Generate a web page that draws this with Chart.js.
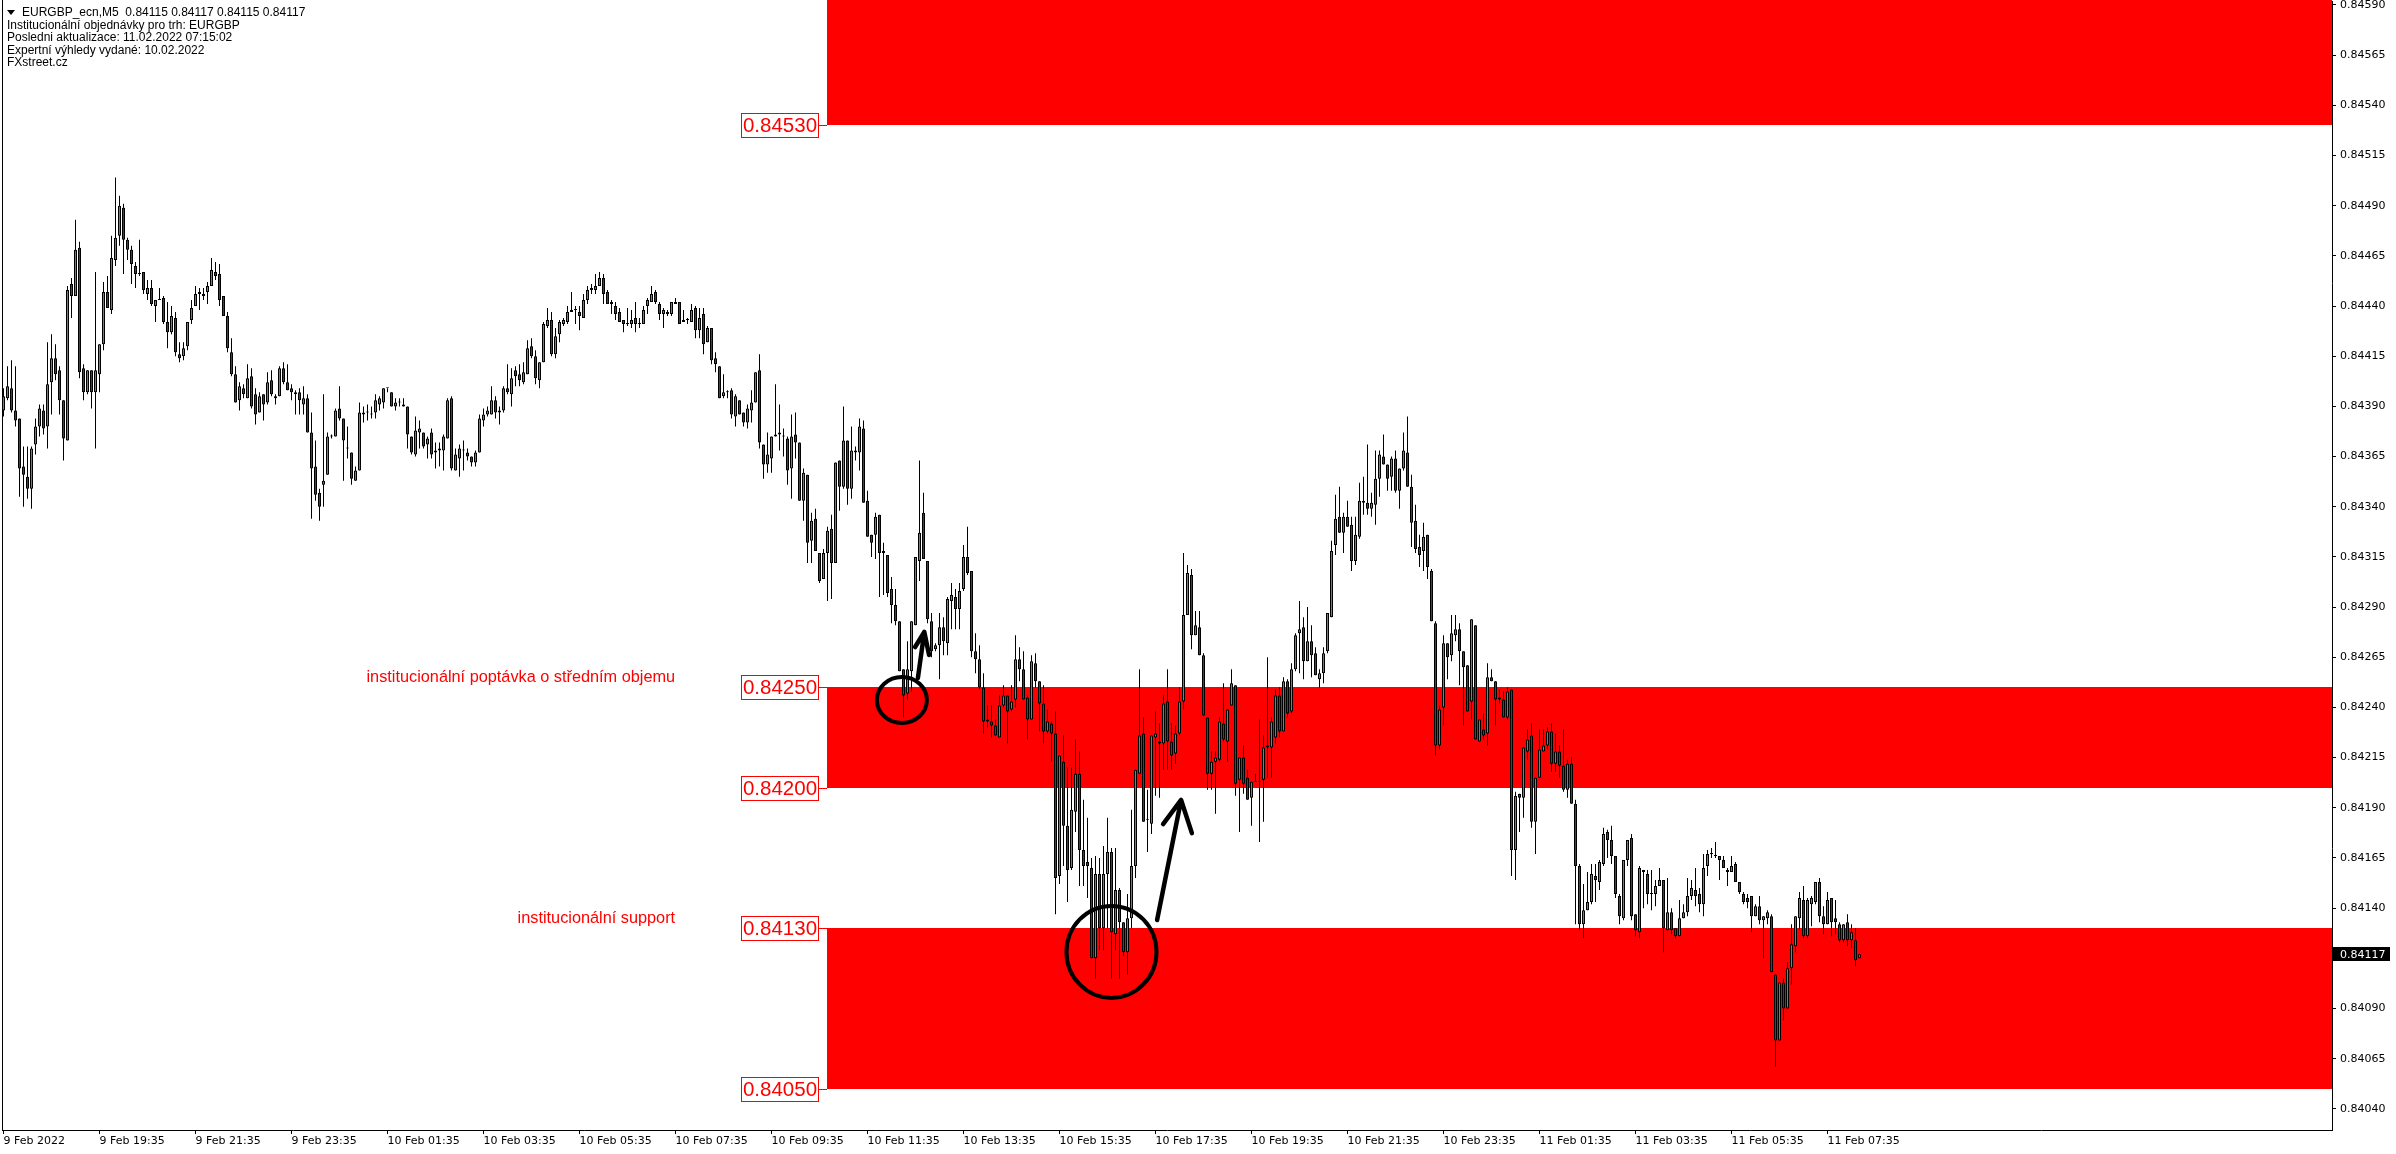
<!DOCTYPE html>
<html>
<head>
<meta charset="utf-8">
<script src="https://cdn.jsdelivr.net/npm/chart.js@4.4.1/dist/chart.umd.min.js"></script>
<style>
  html, body { margin: 0; padding: 0; background: #fff; overflow: hidden; }
</style>
</head>
<body>
<canvas id="c" width="2396" height="1154"></canvas>
<script>
// EURGBP M5, one entry per 5-minute bar, first bar 9 Feb 17:35
const opens = [
0.84388,0.84394,0.84399,0.84388,0.84384,0.84360,0.84355,0.84349,0.84371,0.84380,
0.84388,0.84380,0.84402,0.84414,0.84408,0.84393,0.84373,0.84451,0.84445,0.84469,
0.84409,0.84397,0.84408,0.84397,0.84406,0.84421,0.84447,0.84438,0.84463,0.84475,
0.84489,0.84473,0.84468,0.84460,0.84456,0.84457,0.84446,0.84449,0.84440,0.84443,
0.84444,0.84432,0.84427,0.84434,0.84416,0.84415,0.84420,0.84433,0.84440,0.84447,
0.84445,0.84447,0.84450,0.84457,0.84456,0.84445,0.84435,0.84417,0.84406,0.84393,
0.84399,0.84394,0.84405,0.84396,0.84387,0.84396,0.84392,0.84403,0.84395,0.84395,
0.84409,0.84402,0.84399,0.84397,0.84397,0.84391,0.84394,0.84377,0.84360,0.84347,
0.84351,0.84356,0.84375,0.84375,0.84389,0.84384,0.84369,0.84367,0.84353,0.84358,
0.84387,0.84387,0.84386,0.84387,0.84391,0.84392,0.84399,0.84397,0.84390,0.84392,
0.84391,0.84390,0.84375,0.84366,0.84377,0.84377,0.84371,0.84377,0.84367,0.84368,
0.84368,0.84374,0.84394,0.84358,0.84364,0.84368,0.84367,0.84365,0.84362,0.84367,
0.84383,0.84386,0.84386,0.84393,0.84387,0.84388,0.84399,0.84396,0.84408,0.84406,
0.84402,0.84406,0.84420,0.84415,0.84403,0.84412,0.84430,0.84433,0.84416,0.84426,
0.84431,0.84432,0.84437,0.84438,0.84437,0.84434,0.84443,0.84448,0.84448,0.84450,
0.84454,0.84447,0.84442,0.84440,0.84437,0.84433,0.84431,0.84431,0.84434,0.84431,
0.84431,0.84440,0.84442,0.84447,0.84441,0.84436,0.84437,0.84436,0.84442,0.84442,
0.84432,0.84433,0.84432,0.84439,0.84428,0.84436,0.84422,0.84429,0.84414,0.84410,
0.84395,0.84397,0.84398,0.84385,0.84393,0.84387,0.84382,0.84388,0.84392,0.84408,
0.84371,0.84361,0.84364,0.84375,0.84377,0.84375,0.84374,0.84359,0.84376,0.84372,
0.84343,0.84356,0.84323,0.84334,0.84317,0.84304,0.84317,0.84329,0.84312,0.84363,
0.84350,0.84373,0.84349,0.84368,0.84367,0.84379,0.84343,0.84326,0.84326,0.84336,
0.84318,0.84316,0.84299,0.84291,0.84283,0.84259,0.84247,0.84258,0.84281,0.84313,
0.84337,0.84313,0.84283,0.84269,0.84271,0.84280,0.84272,0.84293,0.84295,0.84289,
0.84299,0.84315,0.84308,0.84268,0.84264,0.84250,0.84234,0.84233,0.84231,0.84225,
0.84241,0.84246,0.84239,0.84244,0.84264,0.84259,0.84245,0.84234,0.84262,0.84253,
0.84242,0.84228,0.84232,0.84227,0.84156,0.84213,0.84181,0.84160,0.84188,0.84207,
0.84169,0.84163,0.84160,0.84115,0.84157,0.84130,0.84157,0.84168,0.84127,0.84149,
0.84133,0.84118,0.84135,0.84161,0.84207,0.84227,0.84184,0.84182,0.84225,0.84223,
0.84222,0.84243,0.84223,0.84217,0.84227,0.84243,0.84286,0.84306,0.84276,0.84280,
0.84266,0.84235,0.84207,0.84213,0.84214,0.84232,0.84223,0.84241,0.84251,0.84204,
0.84215,0.84205,0.84195,0.84203,0.84203,0.84204,0.84220,0.84220,0.84225,0.84246,
0.84228,0.84253,0.84238,0.84259,0.84277,0.84280,0.84263,0.84273,0.84267,0.84254,
0.84257,0.84268,0.84285,0.84321,0.84335,0.84327,0.84335,0.84331,0.84313,0.84325,
0.84342,0.84342,0.84339,0.84341,0.84354,0.84365,0.84361,0.84355,0.84364,0.84348,
0.84359,0.84367,0.84350,0.84333,0.84320,0.84318,0.84326,0.84308,0.84282,0.84221,
0.84240,0.84272,0.84266,0.84276,0.84279,0.84268,0.84261,0.84243,0.84281,0.84223,
0.84229,0.84227,0.84255,0.84253,0.84245,0.84244,0.84235,0.84249,0.84169,0.84197,
0.84195,0.84218,0.84226,0.84183,0.84205,0.84218,0.84221,0.84228,0.84212,0.84218,
0.84211,0.84199,0.84212,0.84192,0.84161,0.84132,0.84139,0.84143,0.84156,0.84153,
0.84162,0.84178,0.84174,0.84166,0.84146,0.84135,0.84164,0.84175,0.84137,0.84128,
0.84159,0.84157,0.84147,0.84147,0.84151,0.84154,0.84129,0.84138,0.84130,0.84126,
0.84135,0.84138,0.84146,0.84149,0.84147,0.84142,0.84161,0.84167,0.84166,0.84166,
0.84164,0.84159,0.84158,0.84162,0.84153,0.84147,0.84145,0.84146,0.84136,0.84141,
0.84134,0.84135,0.84136,0.84107,0.84074,0.84103,0.84090,0.84110,0.84121,0.84135,
0.84144,0.84126,0.84142,0.84143,0.84153,0.84136,0.84132,0.84145,0.84135,0.84132,
0.84124,0.84133,0.84124,0.84124,0.84115
];
const highs = [
0.84399,0.84410,0.84413,0.84410,0.84384,0.84370,0.84370,0.84370,0.84384,0.84391,
0.84391,0.84422,0.84426,0.84421,0.84410,0.84393,0.84450,0.84454,0.84483,0.84472,
0.84411,0.84408,0.84408,0.84457,0.84421,0.84452,0.84455,0.84475,0.84504,0.84495,
0.84491,0.84474,0.84470,0.84462,0.84473,0.84457,0.84453,0.84453,0.84443,0.84449,
0.84445,0.84442,0.84440,0.84437,0.84422,0.84422,0.84432,0.84443,0.84450,0.84449,
0.84449,0.84452,0.84464,0.84462,0.84461,0.84445,0.84437,0.84424,0.84410,0.84402,
0.84401,0.84411,0.84409,0.84399,0.84397,0.84396,0.84407,0.84408,0.84396,0.84410,
0.84412,0.84411,0.84401,0.84398,0.84399,0.84400,0.84396,0.84387,0.84373,0.84349,
0.84396,0.84377,0.84376,0.84389,0.84400,0.84384,0.84380,0.84367,0.84360,0.84392,
0.84390,0.84391,0.84390,0.84396,0.84395,0.84399,0.84399,0.84397,0.84394,0.84394,
0.84394,0.84390,0.84375,0.84385,0.84383,0.84377,0.84375,0.84379,0.84372,0.84372,
0.84376,0.84394,0.84395,0.84369,0.84371,0.84373,0.84369,0.84365,0.84368,0.84386,
0.84389,0.84390,0.84400,0.84395,0.84390,0.84400,0.84411,0.84409,0.84410,0.84411,
0.84412,0.84423,0.84424,0.84418,0.84412,0.84432,0.84439,0.84437,0.84429,0.84433,
0.84434,0.84440,0.84447,0.84440,0.84440,0.84446,0.84450,0.84451,0.84456,0.84457,
0.84456,0.84448,0.84443,0.84442,0.84439,0.84433,0.84439,0.84438,0.84442,0.84434,
0.84440,0.84444,0.84450,0.84448,0.84442,0.84439,0.84438,0.84442,0.84444,0.84442,
0.84438,0.84434,0.84441,0.84440,0.84439,0.84439,0.84430,0.84429,0.84417,0.84410,
0.84406,0.84398,0.84399,0.84396,0.84393,0.84387,0.84391,0.84398,0.84407,0.84416,
0.84371,0.84377,0.84375,0.84401,0.84391,0.84379,0.84375,0.84386,0.84387,0.84372,
0.84359,0.84356,0.84337,0.84339,0.84317,0.84319,0.84330,0.84336,0.84362,0.84363,
0.84390,0.84373,0.84380,0.84370,0.84384,0.84383,0.84348,0.84326,0.84337,0.84336,
0.84322,0.84316,0.84305,0.84299,0.84283,0.84259,0.84273,0.84283,0.84315,0.84363,
0.84347,0.84313,0.84287,0.84272,0.84287,0.84285,0.84295,0.84302,0.84299,0.84302,
0.84321,0.84330,0.84308,0.84277,0.84271,0.84257,0.84241,0.84241,0.84234,0.84246,
0.84251,0.84246,0.84251,0.84276,0.84270,0.84268,0.84246,0.84266,0.84267,0.84253,
0.84251,0.84239,0.84233,0.84238,0.84216,0.84226,0.84210,0.84210,0.84224,0.84218,
0.84194,0.84185,0.84165,0.84166,0.84165,0.84171,0.84185,0.84170,0.84170,0.84150,
0.84133,0.84147,0.84189,0.84209,0.84259,0.84235,0.84199,0.84226,0.84238,0.84232,
0.84246,0.84259,0.84232,0.84231,0.84250,0.84317,0.84311,0.84309,0.84288,0.84288,
0.84267,0.84235,0.84218,0.84218,0.84235,0.84252,0.84239,0.84259,0.84251,0.84215,
0.84221,0.84209,0.84203,0.84207,0.84234,0.84226,0.84265,0.84235,0.84249,0.84250,
0.84255,0.84254,0.84262,0.84277,0.84293,0.84285,0.84290,0.84281,0.84270,0.84259,
0.84270,0.84287,0.84323,0.84346,0.84350,0.84337,0.84343,0.84335,0.84335,0.84352,
0.84355,0.84371,0.84347,0.84368,0.84368,0.84376,0.84361,0.84365,0.84368,0.84359,
0.84377,0.84385,0.84356,0.84341,0.84326,0.84332,0.84326,0.84309,0.84283,0.84241,
0.84276,0.84272,0.84286,0.84286,0.84282,0.84268,0.84261,0.84284,0.84281,0.84234,
0.84237,0.84262,0.84259,0.84253,0.84249,0.84248,0.84250,0.84249,0.84198,0.84197,
0.84220,0.84229,0.84232,0.84205,0.84229,0.84229,0.84230,0.84232,0.84227,0.84221,
0.84229,0.84214,0.84215,0.84194,0.84162,0.84152,0.84158,0.84162,0.84162,0.84164,
0.84180,0.84179,0.84181,0.84166,0.84147,0.84164,0.84174,0.84177,0.84137,0.84161,
0.84159,0.84159,0.84159,0.84154,0.84160,0.84154,0.84155,0.84140,0.84130,0.84144,
0.84142,0.84155,0.84154,0.84160,0.84150,0.84167,0.84169,0.84170,0.84173,0.84166,
0.84166,0.84160,0.84166,0.84163,0.84153,0.84148,0.84147,0.84146,0.84142,0.84146,
0.84136,0.84139,0.84137,0.84107,0.84103,0.84105,0.84113,0.84132,0.84136,0.84148,
0.84151,0.84145,0.84146,0.84153,0.84155,0.84141,0.84148,0.84145,0.84144,0.84133,
0.84132,0.84137,0.84132,0.84130,0.84117
];
const lows = [
0.84385,0.84393,0.84387,0.84380,0.84345,0.84340,0.84344,0.84339,0.84366,0.84375,
0.84376,0.84369,0.84386,0.84403,0.84386,0.84363,0.84373,0.84434,0.84445,0.84404,
0.84393,0.84396,0.84389,0.84369,0.84397,0.84418,0.84439,0.84436,0.84460,0.84470,
0.84456,0.84463,0.84451,0.84449,0.84455,0.84446,0.84443,0.84440,0.84432,0.84443,
0.84431,0.84419,0.84426,0.84415,0.84412,0.84413,0.84418,0.84431,0.84440,0.84438,
0.84443,0.84441,0.84450,0.84453,0.84440,0.84435,0.84417,0.84405,0.84392,0.84388,
0.84394,0.84394,0.84389,0.84381,0.84387,0.84383,0.84391,0.84395,0.84391,0.84395,
0.84401,0.84398,0.84393,0.84386,0.84386,0.84386,0.84377,0.84334,0.84343,0.84333,
0.84340,0.84356,0.84374,0.84375,0.84383,0.84353,0.84364,0.84351,0.84353,0.84358,
0.84382,0.84383,0.84384,0.84384,0.84388,0.84389,0.84397,0.84390,0.84388,0.84390,
0.84390,0.84369,0.84366,0.84365,0.84369,0.84369,0.84364,0.84364,0.84359,0.84360,
0.84358,0.84374,0.84358,0.84358,0.84355,0.84358,0.84363,0.84360,0.84360,0.84367,
0.84380,0.84385,0.84386,0.84384,0.84381,0.84387,0.84396,0.84390,0.84400,0.84400,
0.84401,0.84406,0.84414,0.84401,0.84399,0.84412,0.84429,0.84415,0.84414,0.84422,
0.84430,0.84431,0.84437,0.84431,0.84428,0.84434,0.84441,0.84446,0.84446,0.84450,
0.84441,0.84441,0.84436,0.84433,0.84432,0.84427,0.84430,0.84429,0.84427,0.84429,
0.84431,0.84436,0.84442,0.84441,0.84433,0.84429,0.84435,0.84435,0.84441,0.84431,
0.84432,0.84431,0.84432,0.84424,0.84424,0.84416,0.84422,0.84411,0.84407,0.84394,
0.84394,0.84394,0.84384,0.84380,0.84386,0.84380,0.84379,0.84382,0.84392,0.84369,
0.84354,0.84357,0.84357,0.84375,0.84368,0.84365,0.84351,0.84344,0.84364,0.84343,
0.84333,0.84312,0.84312,0.84318,0.84302,0.84304,0.84293,0.84294,0.84312,0.84338,
0.84349,0.84341,0.84344,0.84363,0.84358,0.84342,0.84325,0.84315,0.84314,0.84295,
0.84296,0.84295,0.84282,0.84281,0.84258,0.84235,0.84244,0.84248,0.84281,0.84303,
0.84314,0.84282,0.84265,0.84268,0.84254,0.84266,0.84266,0.84279,0.84279,0.84279,
0.84298,0.84306,0.84265,0.84257,0.84249,0.84227,0.84230,0.84225,0.84226,0.84225,
0.84240,0.84222,0.84238,0.84240,0.84253,0.84244,0.84224,0.84234,0.84250,0.84228,
0.84222,0.84227,0.84213,0.84137,0.84152,0.84161,0.84143,0.84159,0.84178,0.84151,
0.84151,0.84145,0.84115,0.84105,0.84119,0.84119,0.84130,0.84105,0.84119,0.84105,
0.84116,0.84107,0.84130,0.84155,0.84207,0.84183,0.84168,0.84177,0.84196,0.84195,
0.84209,0.84209,0.84209,0.84212,0.84226,0.84239,0.84286,0.84269,0.84276,0.84266,
0.84236,0.84199,0.84199,0.84187,0.84213,0.84223,0.84213,0.84241,0.84196,0.84178,
0.84197,0.84194,0.84181,0.84203,0.84173,0.84183,0.84205,0.84205,0.84222,0.84225,
0.84228,0.84235,0.84237,0.84258,0.84257,0.84254,0.84263,0.84255,0.84256,0.84250,
0.84252,0.84267,0.84285,0.84316,0.84327,0.84317,0.84330,0.84308,0.84311,0.84324,
0.84336,0.84336,0.84335,0.84331,0.84345,0.84361,0.84348,0.84348,0.84347,0.84339,
0.84358,0.84350,0.84320,0.84317,0.84310,0.84308,0.84304,0.84283,0.84216,0.84219,
0.84231,0.84254,0.84263,0.84273,0.84251,0.84231,0.84238,0.84234,0.84224,0.84223,
0.84224,0.84221,0.84253,0.84231,0.84242,0.84235,0.84234,0.84156,0.84154,0.84178,
0.84185,0.84214,0.84180,0.84167,0.84205,0.84218,0.84219,0.84208,0.84208,0.84205,
0.84198,0.84195,0.84192,0.84132,0.84129,0.84125,0.84139,0.84142,0.84143,0.84149,
0.84161,0.84165,0.84162,0.84145,0.84132,0.84134,0.84161,0.84134,0.84126,0.84125,
0.84140,0.84142,0.84139,0.84141,0.84151,0.84118,0.84129,0.84127,0.84125,0.84126,
0.84135,0.84136,0.84144,0.84141,0.84138,0.84136,0.84156,0.84165,0.84165,0.84154,
0.84160,0.84151,0.84158,0.84153,0.84147,0.84142,0.84140,0.84128,0.84136,0.84132,
0.84115,0.84132,0.84108,0.84061,0.84074,0.84084,0.84090,0.84102,0.84118,0.84129,
0.84125,0.84125,0.84131,0.84142,0.84133,0.84127,0.84132,0.84126,0.84127,0.84123,
0.84123,0.84121,0.84120,0.84111,0.84115
];
const closes = [
0.84395,0.84400,0.84388,0.84383,0.84359,0.84356,0.84349,0.84369,0.84380,0.84389,
0.84379,0.84401,0.84414,0.84406,0.84393,0.84374,0.84448,0.84445,0.84468,0.84407,
0.84397,0.84408,0.84397,0.84408,0.84421,0.84447,0.84439,0.84464,0.84474,0.84490,
0.84473,0.84468,0.84461,0.84456,0.84456,0.84448,0.84449,0.84441,0.84443,0.84443,
0.84432,0.84427,0.84435,0.84417,0.84414,0.84419,0.84432,0.84439,0.84446,0.84446,
0.84446,0.84450,0.84458,0.84455,0.84443,0.84435,0.84419,0.84406,0.84392,0.84400,
0.84396,0.84404,0.84390,0.84386,0.84395,0.84391,0.84402,0.84396,0.84394,0.84409,
0.84402,0.84398,0.84397,0.84396,0.84393,0.84394,0.84377,0.84359,0.84346,0.84340,
0.84353,0.84375,0.84375,0.84388,0.84384,0.84373,0.84369,0.84354,0.84358,0.84387,
0.84386,0.84387,0.84386,0.84393,0.84394,0.84399,0.84399,0.84390,0.84392,0.84392,
0.84390,0.84376,0.84367,0.84378,0.84379,0.84370,0.84374,0.84366,0.84368,0.84369,
0.84375,0.84393,0.84359,0.84366,0.84369,0.84368,0.84365,0.84362,0.84367,0.84384,
0.84386,0.84388,0.84393,0.84387,0.84388,0.84399,0.84397,0.84404,0.84405,0.84403,
0.84407,0.84419,0.84415,0.84404,0.84412,0.84431,0.84433,0.84416,0.84425,0.84432,
0.84433,0.84437,0.84438,0.84438,0.84435,0.84443,0.84448,0.84449,0.84450,0.84454,
0.84446,0.84441,0.84441,0.84436,0.84432,0.84431,0.84431,0.84433,0.84431,0.84431,
0.84438,0.84443,0.84446,0.84442,0.84436,0.84438,0.84436,0.84442,0.84441,0.84431,
0.84433,0.84433,0.84438,0.84428,0.84434,0.84421,0.84429,0.84413,0.84411,0.84394,
0.84397,0.84397,0.84386,0.84395,0.84386,0.84382,0.84389,0.84392,0.84407,0.84372,
0.84361,0.84366,0.84375,0.84376,0.84376,0.84375,0.84358,0.84375,0.84372,0.84343,
0.84357,0.84322,0.84333,0.84318,0.84303,0.84317,0.84328,0.84312,0.84362,0.84350,
0.84373,0.84349,0.84368,0.84367,0.84380,0.84342,0.84325,0.84322,0.84335,0.84317,
0.84317,0.84297,0.84291,0.84283,0.84258,0.84246,0.84259,0.84283,0.84315,0.84327,
0.84314,0.84284,0.84268,0.84271,0.84280,0.84273,0.84294,0.84296,0.84289,0.84298,
0.84315,0.84307,0.84268,0.84264,0.84250,0.84233,0.84233,0.84231,0.84226,0.84241,
0.84246,0.84238,0.84243,0.84264,0.84259,0.84244,0.84234,0.84263,0.84253,0.84242,
0.84228,0.84233,0.84227,0.84155,0.84216,0.84181,0.84159,0.84189,0.84207,0.84169,
0.84161,0.84161,0.84115,0.84157,0.84130,0.84157,0.84168,0.84128,0.84149,0.84133,
0.84118,0.84135,0.84161,0.84209,0.84226,0.84183,0.84184,0.84226,0.84227,0.84222,
0.84242,0.84223,0.84216,0.84227,0.84243,0.84286,0.84307,0.84276,0.84281,0.84266,
0.84236,0.84207,0.84213,0.84215,0.84233,0.84224,0.84239,0.84252,0.84202,0.84215,
0.84202,0.84194,0.84203,0.84203,0.84203,0.84220,0.84221,0.84233,0.84246,0.84228,
0.84253,0.84237,0.84259,0.84276,0.84279,0.84263,0.84273,0.84266,0.84256,0.84257,
0.84267,0.84287,0.84318,0.84334,0.84327,0.84335,0.84330,0.84313,0.84326,0.84343,
0.84343,0.84339,0.84342,0.84354,0.84366,0.84361,0.84354,0.84364,0.84348,0.84359,
0.84368,0.84350,0.84332,0.84319,0.84316,0.84325,0.84310,0.84283,0.84221,0.84239,
0.84272,0.84265,0.84277,0.84279,0.84268,0.84260,0.84238,0.84284,0.84224,0.84234,
0.84226,0.84255,0.84253,0.84244,0.84244,0.84235,0.84248,0.84169,0.84196,0.84195,
0.84220,0.84224,0.84183,0.84205,0.84219,0.84221,0.84228,0.84212,0.84218,0.84211,
0.84199,0.84212,0.84192,0.84161,0.84132,0.84139,0.84143,0.84157,0.84154,0.84163,
0.84177,0.84174,0.84166,0.84147,0.84136,0.84164,0.84174,0.84136,0.84129,0.84160,
0.84158,0.84147,0.84147,0.84151,0.84154,0.84130,0.84138,0.84129,0.84126,0.84135,
0.84138,0.84146,0.84150,0.84146,0.84142,0.84160,0.84167,0.84167,0.84166,0.84164,
0.84160,0.84158,0.84161,0.84153,0.84148,0.84143,0.84143,0.84136,0.84141,0.84134,
0.84136,0.84138,0.84108,0.84074,0.84103,0.84090,0.84110,0.84122,0.84136,0.84145,
0.84126,0.84144,0.84145,0.84153,0.84136,0.84132,0.84144,0.84133,0.84133,0.84124,
0.84132,0.84124,0.84128,0.84114,0.84117
];

// time axis: bar index of each label
const timeTickBars = [0, 24, 48, 72, 96, 120, 144, 168, 192, 216, 240, 264, 288, 312, 336, 360, 384, 408, 432, 456];
const timeLabels = ['9 Feb 2022', '9 Feb 19:35', '9 Feb 21:35', '9 Feb 23:35', '10 Feb 01:35', '10 Feb 03:35',
  '10 Feb 05:35', '10 Feb 07:35', '10 Feb 09:35', '10 Feb 11:35', '10 Feb 13:35', '10 Feb 15:35',
  '10 Feb 17:35', '10 Feb 19:35', '10 Feb 21:35', '10 Feb 23:35', '11 Feb 01:35', '11 Feb 03:35',
  '11 Feb 05:35', '11 Feb 07:35'];
const priceTicks = [0.84040, 0.84065, 0.84090, 0.84115, 0.84140, 0.84165, 0.84190, 0.84215, 0.84240,
  0.84265, 0.84290, 0.84315, 0.84340, 0.84365, 0.84390, 0.84415, 0.84440, 0.84465, 0.84490, 0.84515,
  0.84540, 0.84565, 0.84590];

// institutional order zones
const zoneStartBar = 205.9;
const zoneTops = [0.84600, 0.84250, 0.84130];
const zoneBottoms = [0.84530, 0.84200, 0.84050];
const levelLabels = [0.84530, 0.84250, 0.84200, 0.84130, 0.84050];
const noteTexts = ['institucionální poptávka o středním objemu', 'institucionální support'];
const notePrices = [0.84255, 0.84135];
const noteBar = 167.9;
const circleBars = [224.6, 277.0];
const circlePrices = [0.842437, 0.841182];
const arrowBars = [[228.6, 230.2, 227.9, 231.4], [288.4, 294.4, 289.9, 297.1]];
const arrowPrices = [[0.842547, 0.842776, 0.842701, 0.842661], [0.841341, 0.841939, 0.841819, 0.841774]];
const lastPrice = 0.84117;
const headerLines = [
  'EURGBP_ecn,M5  0.84115 0.84117 0.84115 0.84117',
  'Institucionální objednávky pro trh: EURGBP',
  'Posledni aktualizace: 11.02.2022 07:15:02',
  'Expertní výhledy vydané: 10.02.2022',
  'FXstreet.cz'
];

const axisFont = '11px "DejaVu Sans"';
const bodyColors = opens.map((o, i) => closes[i] > o ? '#2fb12f' : (closes[i] < o ? '#e00000' : '#000'));

const overlay = {
  id: 'overlay',
  beforeDraw(c) {
    const ctx = c.ctx;
    ctx.save();
    ctx.fillStyle = '#fff';
    ctx.fillRect(0, 0, c.width, c.height);
    ctx.restore();
  },
  beforeDatasetsDraw(c) {
    const { ctx, chartArea: a, scales: { x, y } } = c;
    ctx.save();
    ctx.fillStyle = '#ff0000';
    const zx = Math.round(x.getPixelForValue(zoneStartBar));
    zoneTops.forEach((t, k) => {
      const y0 = Math.max(0, Math.round(y.getPixelForValue(t)));
      const y1 = Math.round(y.getPixelForValue(zoneBottoms[k]));
      ctx.fillRect(zx, y0, a.right - zx, y1 - y0);
    });
    ctx.restore();
  },
  afterDatasetsDraw(c) {
    const { ctx, scales: { x, y } } = c;
    ctx.save();
    // price boxes left of the zones
    const zx = Math.round(x.getPixelForValue(zoneStartBar));
    ctx.font = '20.5px "Liberation Sans"';
    ctx.textAlign = 'center';
    ctx.textBaseline = 'middle';
    levelLabels.forEach(p => {
      const py = Math.round(y.getPixelForValue(p));
      const bw = 78, bx1 = zx - 8, bx0 = bx1 - bw;
      ctx.fillStyle = '#fff';
      ctx.fillRect(bx0, py - 12, bw, 25);
      ctx.strokeStyle = '#ff0000';
      ctx.lineWidth = 1;
      ctx.strokeRect(bx0 + 0.5, py - 11.5, bw - 1, 24);
      ctx.beginPath();
      ctx.moveTo(bx1, py + 0.5);
      ctx.lineTo(zx, py + 0.5);
      ctx.stroke();
      ctx.fillStyle = '#ff0000';
      ctx.fillText(p.toFixed(5), bx0 + bw / 2, py + 1.5);
    });
    // notes
    ctx.font = '16.3px "Liberation Sans"';
    ctx.textAlign = 'right';
    noteTexts.forEach((t, k) => {
      ctx.fillText(t, x.getPixelForValue(noteBar), y.getPixelForValue(notePrices[k]));
    });
    // circles and arrows
    ctx.strokeStyle = '#000';
    ctx.lineWidth = 4;
    const radii = [[25, 23], [45, 46]];
    circleBars.forEach((b, k) => {
      ctx.beginPath();
      ctx.ellipse(x.getPixelForValue(b), y.getPixelForValue(circlePrices[k]), radii[k][0], radii[k][1], 0, 0, Math.PI * 2);
      ctx.stroke();
    });
    ctx.lineWidth = 4.5;
    ctx.lineCap = 'round';
    ctx.lineJoin = 'round';
    arrowBars.forEach((bs, k) => {
      const pt = j => [x.getPixelForValue(bs[j]), y.getPixelForValue(arrowPrices[k][j])];
      const [s, tip, hl, hr] = [pt(0), pt(1), pt(2), pt(3)];
      ctx.beginPath();
      ctx.moveTo(s[0], s[1]);
      ctx.lineTo(tip[0], tip[1]);
      ctx.moveTo(hl[0], hl[1]);
      ctx.lineTo(tip[0], tip[1]);
      ctx.lineTo(hr[0], hr[1]);
      ctx.stroke();
    });
    ctx.restore();
  },
  afterDraw(c) {
    const { ctx, chartArea: a, scales: { y } } = c;
    ctx.save();
    // left frame line
    ctx.fillStyle = '#000';
    ctx.fillRect(a.left, 0, 1, a.bottom + 1);
    // header
    ctx.font = '12px "Liberation Sans"';
    ctx.textAlign = 'left';
    ctx.textBaseline = 'middle';
    ctx.beginPath();
    ctx.moveTo(7, 10); ctx.lineTo(15, 10); ctx.lineTo(11, 15); ctx.closePath();
    ctx.fill();
    headerLines.forEach((t, k) => ctx.fillText(t, k === 0 ? 22 : 7, 13 + k * 12.5));
    // last price marker on the axis
    const py = Math.round(y.getPixelForValue(lastPrice));
    ctx.fillStyle = '#000';
    ctx.fillRect(a.right + 1, py - 7, 57, 14);
    ctx.fillStyle = '#fff';
    ctx.font = axisFont;
    ctx.fillText(lastPrice.toFixed(5), a.right + 8, py + 1);
    ctx.restore();
  }
};

new Chart(document.getElementById('c').getContext('2d'), {
  type: 'bar',
  data: {
    datasets: [
      {
        label: 'body',
        data: opens.map((o, i) => ({ x: i, y: [o, closes[i]] })),
        backgroundColor: bodyColors,
        borderColor: '#000',
        borderWidth: 1,
        borderSkipped: false,
        inflateAmount: 0,
        barThickness: 3,
        minBarLength: 1,
        grouped: false,
        order: 1
      },
      {
        label: 'wick',
        data: lows.map((l, i) => ({ x: i, y: [l, highs[i]] })),
        backgroundColor: '#000',
        borderWidth: 0,
        inflateAmount: 0,
        barThickness: 1,
        grouped: false,
        order: 2
      }
    ]
  },
  options: {
    responsive: false,
    animation: false,
    devicePixelRatio: 1,
    layout: { padding: { left: 2, top: 1, right: 0, bottom: 0 } },
    plugins: { legend: { display: false }, tooltip: { enabled: false } },
    scales: {
      x: {
        type: 'linear',
        min: -0.375,
        max: 582.125,
        offset: false,
        grid: { drawOnChartArea: false, drawTicks: true, tickLength: 4, color: '#000', offset: false },
        border: { display: true, color: '#000' },
        afterBuildTicks: s => { s.ticks = timeTickBars.map(v => ({ value: v })); },
        afterFit: s => { s.height = 24; s.paddingLeft = 0; s.paddingRight = 0; },
        ticks: {
          autoSkip: false, maxRotation: 0, minRotation: 0, align: 'start', padding: 1,
          color: '#000', font: { family: 'DejaVu Sans', size: 11 },
          callback: (v, i) => timeLabels[i]
        }
      },
      y: {
        type: 'linear',
        position: 'right',
        min: 0.8402946,
        max: 0.8459199,
        grid: { drawOnChartArea: false, drawTicks: true, tickLength: 4, color: '#000' },
        border: { display: true, color: '#000' },
        afterBuildTicks: s => { s.ticks = priceTicks.map(v => ({ value: v })); },
        afterFit: s => { s.width = 64; s.paddingTop = 0; s.paddingBottom = 0; },
        ticks: {
          autoSkip: false, padding: 4, color: '#000', font: { family: 'DejaVu Sans', size: 11 },
          callback: v => v.toFixed(5)
        }
      }
    }
  },
  plugins: [overlay]
});
</script>
</body>
</html>
